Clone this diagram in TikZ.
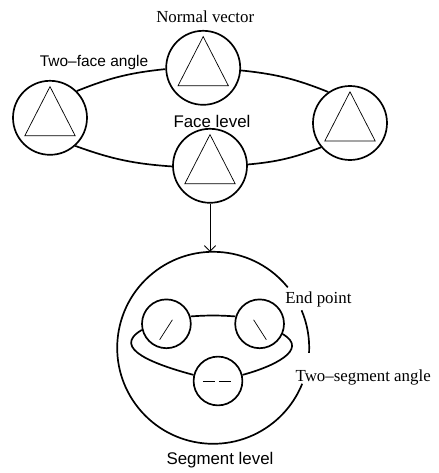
\documentclass[tikz,border=0pt]{standalone}
\usepackage{fontspec}
\setmainfont{Liberation Serif}
\setsansfont{Liberation Sans}
\usetikzlibrary{arrows.meta}
\tikzset{
  facecirc/.style={draw, circle, line width=1.2pt, minimum size=1.85cm, inner sep=0pt},
  segcirc/.style={draw, circle, line width=1.2pt, minimum size=1.22cm, inner sep=0pt},
  link/.style={line width=1.2pt},
  serlab/.style={font=\fontsize{12}{14}\selectfont},
  sanslab/.style={font=\sffamily\fontsize{11.5}{14}\selectfont}
}
\begin{document}
\begin{tikzpicture}
        \useasboundingbox (0,0) rectangle (10.975,11.825);
        % face level
        \node[facecirc] (nv) at (5.08, 10.13) {};
        \node[facecirc] (la) at (1.25, 8.88) {};
        \node[facecirc] (ra) at (8.75, 8.75) {};
        \node[facecirc] (fl) at (5.25, 7.68) {};
        \foreach \n in {nv, la, ra, fl} {
            \draw[line width=0.5pt] ([shift={(0,0.78)}]\n.center) -- ([shift={(-0.63,-0.45)}]\n.center)
                -- ([shift={(0.63,-0.45)}]\n.center) -- cycle;
        }
        \draw[link] (la.45) to[bend left=8] (nv.182);
        \draw[link] (nv.-4) to[bend left=8] (ra.125);
        \draw[link] (la.-48) to[bend right=8] (fl.181);
        \draw[link] (fl.2) to[bend right=8] (ra.220);
        \node[serlab] (lnv) at (5.13, 11.4) {Normal vector};
        \node[sanslab, font=\sffamily\fontsize{11}{14}\selectfont] (ltf) at (2.35, 10.25) {Two--face angle};
        \node[sanslab, font=\sffamily\fontsize{12}{14}\selectfont] (lfl) at (5.3, 8.78) {Face level};
        % segment level
        \node[circle, minimum size=4.8cm, inner sep=0pt, outer sep=0pt] (sl) at (5.33, 3.13) {};
        \draw[link] (sl.39) arc[start angle=39, end angle=338, radius=2.4cm];
        \draw[link] (sl.-3) arc[start angle=-3, end angle=23, radius=2.4cm];
        \draw[line width=0.6pt, -{Straight Barb[length=4pt]}] (fl.south) -- (fl.south |- sl.north);
        \node[segcirc] (sa) at (4.16, 3.73) {};
        \node[segcirc] (sb) at (6.49, 3.73) {};
        \node[segcirc] (sc) at (5.45, 2.3) {};
        \draw[line width=0.5pt] ([shift={(-0.17,-0.4)}]sa.center) -- ([shift={(0.15,0.1)}]sa.center);
        \draw[line width=0.5pt] ([shift={(-0.15,0.1)}]sb.center) -- ([shift={(0.17,-0.4)}]sb.center);
        \draw[line width=0.5pt, dash pattern=on 0.3cm off 0.1cm] ([shift={(-0.38,0)}]sc.center) -- ([shift={(0.32,0)}]sc.center);
        \draw[link] (sa.17) to[bend left=4] (sb.163);
        \draw[link] (sa.194) to[out=210, in=165, looseness=1.4] (sc.166);
        \draw[link] (sb.-24) to[out=-30, in=15, looseness=1.4] (sc.14);
        \node[serlab] (lep) at (7.96, 4.33) {End point};
        \node[serlab] (lts) at (9.08, 2.38) {Two--segment angle};
        \node[sanslab, font=\sffamily\fontsize{12}{14}\selectfont] (lsl) at (5.5, 0.33) {Segment level};
    \end{tikzpicture}
\end{document}
